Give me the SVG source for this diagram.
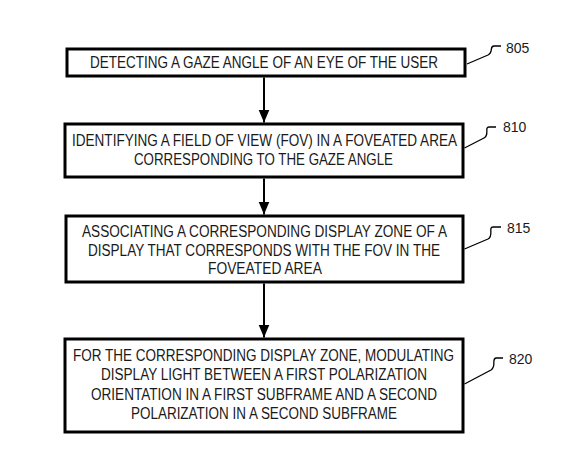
<svg xmlns="http://www.w3.org/2000/svg" width="579" height="457" viewBox="0 0 579 457">
<style>
.box{fill:#fff;stroke:#000;stroke-width:3}
.t{font-family:"Liberation Sans",Arial,sans-serif;font-size:16px;fill:#1a1a1a;text-anchor:middle}
.lbl{font-family:"Liberation Sans",Arial,sans-serif;font-size:14px;fill:#1a1a1a}
.conn{stroke:#000;stroke-width:2;fill:none}
.lead{stroke:#000;stroke-width:1.3;fill:none}
</style>
<defs>
<marker id="ah" markerUnits="userSpaceOnUse" markerWidth="14" markerHeight="12" viewBox="0 0 14 12" refX="13" refY="6" orient="auto">
<path d="M0,0.5 L13,6 L0,11.5 Z" fill="#000"/>
</marker>
</defs>
<rect width="579" height="457" fill="#fff"/>
<g id="connectors">
<line class="conn" x1="264" y1="77.5" x2="264" y2="122.5" marker-end="url(#ah)"/>
<line class="conn" x1="264" y1="178.5" x2="264" y2="214.5" marker-end="url(#ah)"/>
<line class="conn" x1="264" y1="283.5" x2="264" y2="337.5" marker-end="url(#ah)"/>
</g>
<g id="n805">
<rect class="box" x="67" y="49" width="398" height="27"/>
<text class="t" x="264" y="68" textLength="348" lengthAdjust="spacingAndGlyphs">DETECTING A GAZE ANGLE OF AN EYE OF THE USER</text>
<path class="lead" d="M467,64 L488,55 C494,52 489,46 494,46 L501,46"/>
<text class="lbl" x="506" y="53">805</text>
</g>
<g id="n810">
<rect class="box" x="65" y="124" width="398" height="53"/>
<text class="t" x="264.5" y="146" textLength="385" lengthAdjust="spacingAndGlyphs">IDENTIFYING A FIELD OF VIEW (FOV) IN A FOVEATED AREA</text>
<text class="t" x="263.5" y="165" textLength="259" lengthAdjust="spacingAndGlyphs">CORRESPONDING TO THE GAZE ANGLE</text>
<path class="lead" d="M464.5,148 L484,138 C490,135 484,127 489,127 L496,127"/>
<text class="lbl" x="503" y="132">810</text>
</g>
<g id="n815">
<rect class="box" x="66" y="216" width="397" height="66"/>
<text class="t" x="264.5" y="237" textLength="365" lengthAdjust="spacingAndGlyphs">ASSOCIATING A CORRESPONDING DISPLAY ZONE OF A</text>
<text class="t" x="264" y="256" textLength="352" lengthAdjust="spacingAndGlyphs">DISPLAY THAT CORRESPONDS WITH THE FOV IN THE</text>
<text class="t" x="265" y="274" textLength="114" lengthAdjust="spacingAndGlyphs">FOVEATED AREA</text>
<path class="lead" d="M464.5,249 L488,239 C494,236 488,227 493,227 L501,227"/>
<text class="lbl" x="507" y="233">815</text>
</g>
<g id="n820">
<rect class="box" x="65" y="339" width="398" height="93"/>
<text class="t" x="263.5" y="361" textLength="381" lengthAdjust="spacingAndGlyphs">FOR THE CORRESPONDING DISPLAY ZONE, MODULATING</text>
<text class="t" x="264" y="380" textLength="326" lengthAdjust="spacingAndGlyphs">DISPLAY LIGHT BETWEEN A FIRST POLARIZATION</text>
<text class="t" x="264" y="400" textLength="346" lengthAdjust="spacingAndGlyphs">ORIENTATION IN A FIRST SUBFRAME AND A SECOND</text>
<text class="t" x="264" y="419" textLength="266" lengthAdjust="spacingAndGlyphs">POLARIZATION IN A SECOND SUBFRAME</text>
<path class="lead" d="M464.5,384 L491,370 C497,366 491,359 496,358 L503,358"/>
<text class="lbl" x="509" y="364">820</text>
</g>
</svg>
